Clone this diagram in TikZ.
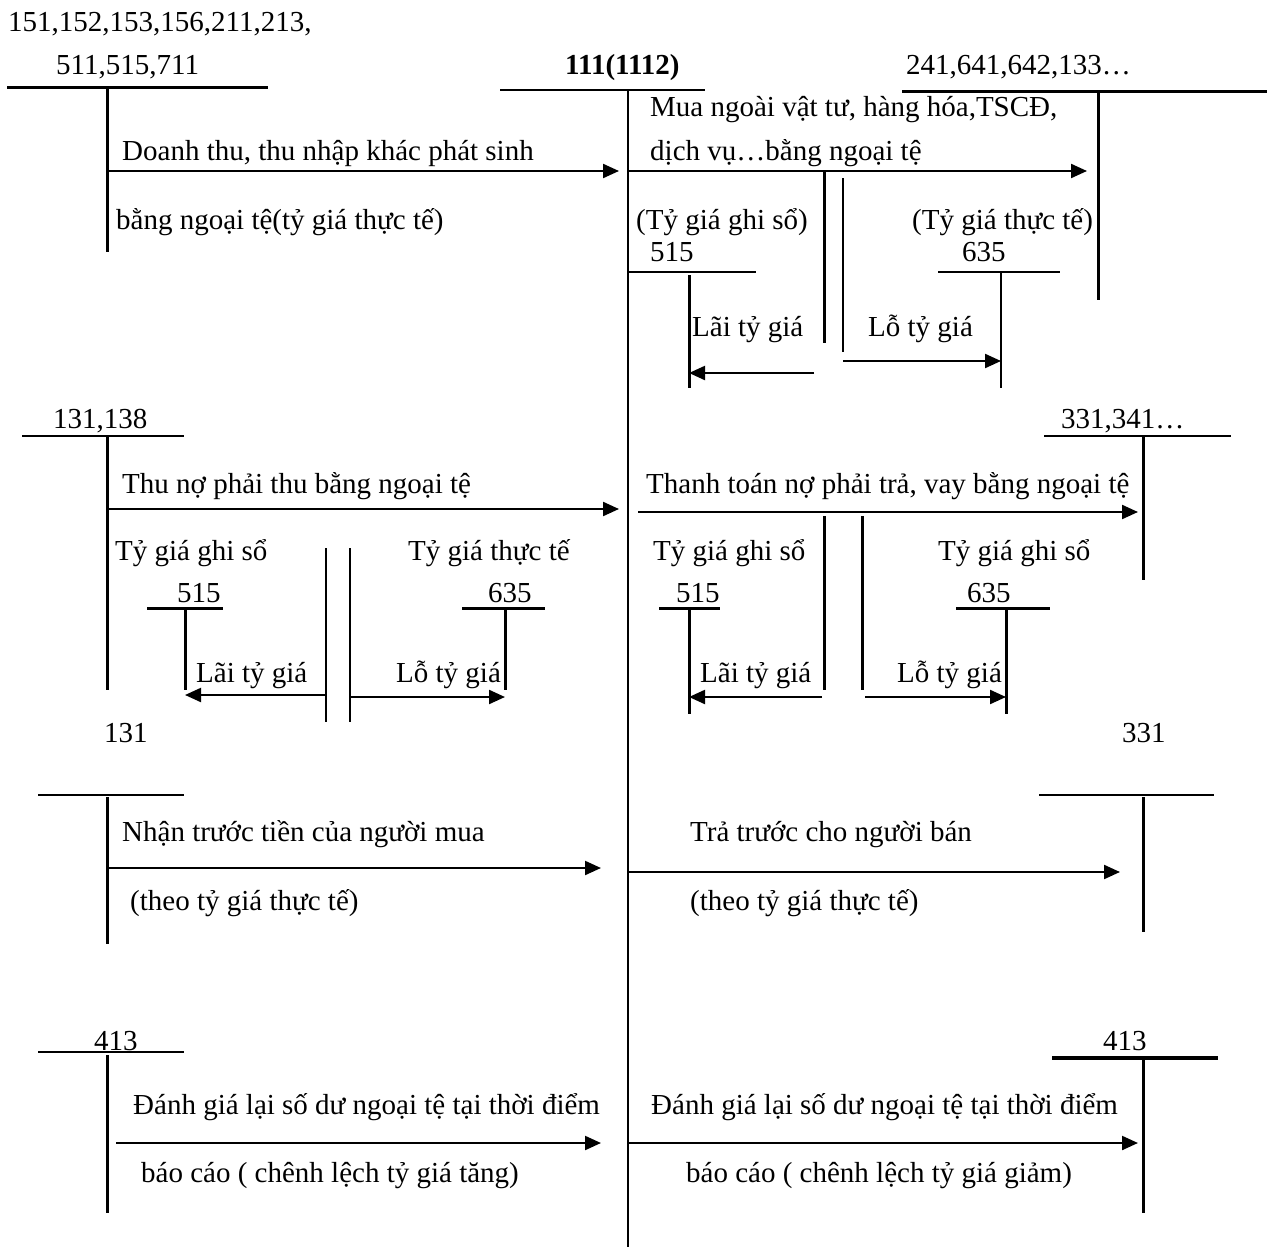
\documentclass[tikz,border=0pt]{standalone}
\usepackage{fontspec}
\setmainfont{Liberation Serif}
\usetikzlibrary{arrows.meta}
\tikzset{
  lbl/.style={inner sep=0pt, anchor=base west, font=\fontsize{29}{34}\selectfont},
  acc/.style={line width=3pt},
  thin/.style={line width=2pt},
  arr/.style={line width=2.2pt, -{Triangle[length=16pt,width=14pt]}},
}
\begin{document}
\begin{tikzpicture}[x=1pt,y=-1pt]
\useasboundingbox (0,0) rectangle (1267,1247);
% ---------- top header ----------
\node[lbl] (h1) at (8,32) {151,152,153,156,211,213,};
\node[lbl] (h2) at (56,75) {511,515,711};
\node[lbl,font=\fontsize{29}{34}\selectfont\bfseries] (h111) at (565,75) {111(1112)};
\node[lbl] (h3) at (906,75) {241,641,642,133…};
% account 111 center
\coordinate (c0) at (500,90); \coordinate (c1) at (705,90);
\coordinate (ct) at (628,90); \coordinate (cb) at (628,1247);
\draw[thin] (c0) -- (c1);
\draw[thin] (ct) -- (cb);
% left top T
\coordinate (a0) at (7,88); \coordinate (a1) at (268,88);
\coordinate (at) at (107,88); \coordinate (ab) at (107,252);
\draw[acc] (a0) -- (a1); \draw[acc] (at) -- (ab);
\coordinate (ar1s) at (107,171); \coordinate (ar1e) at (619,171);
\draw[arr] (ar1s) -- (ar1e);
\node[lbl] (t1) at (122,160) {Doanh thu, thu nhập khác phát sinh};
\node[lbl] (t2) at (116,229) {bằng ngoại tệ(tỷ giá thực tế)};
% right top T
\coordinate (b0) at (902,92); \coordinate (b1) at (1267,92);
\coordinate (bt) at (1098,92); \coordinate (bb) at (1098,300);
\draw[acc] (b0) -- (b1); \draw[acc] (bt) -- (bb);
\coordinate (ar2s) at (628,171); \coordinate (ar2e) at (1087,171);
\draw[arr] (ar2s) -- (ar2e);
\node[lbl] (t3) at (650,117) {Mua ngoài vật tư, hàng hóa,TSCĐ,};
\node[lbl] (t4) at (650,160) {dịch vụ…bằng ngoại tệ};
\coordinate (v1t) at (824,171); \coordinate (v1b) at (824,343);
\coordinate (v2t) at (843,178); \coordinate (v2b) at (843,352);
\draw[acc] (v1t) -- (v1b); \draw[thin] (v2t) -- (v2b);
\node[lbl] (t5) at (636,229) {(Tỷ giá ghi sổ)};
\node[lbl] (n515a) at (650,261) {515};
\coordinate (d0) at (628,272); \coordinate (d1) at (756,272);
\coordinate (dt) at (689,275); \coordinate (db) at (689,388);
\draw[thin] (d0) -- (d1); \draw[acc] (dt) -- (db);
\node[lbl] (t6) at (912,229) {(Tỷ giá thực tế)};
\node[lbl] (n635a) at (962,261) {635};
\coordinate (e0) at (938,272); \coordinate (e1) at (1060,272);
\coordinate (et) at (1001,272); \coordinate (eb) at (1001,388);
\draw[thin] (e0) -- (e1); \draw[thin] (et) -- (eb);
\node[lbl] (t7) at (692,336) {Lãi tỷ giá};
\node[lbl] (t8) at (868,336) {Lỗ tỷ giá};
\coordinate (ar3s) at (814,373);
\draw[arr] (ar3s) -- (dt |- ar3s);
\coordinate (ar4s) at (843,361);
\draw[arr] (ar4s) -- (et |- ar4s);
% ---------- section 2 left ----------
\node[lbl] (h4) at (53,428) {131,138};
\coordinate (f0) at (22,436); \coordinate (f1) at (184,436);
\coordinate (ft) at (107,436); \coordinate (fb) at (107,690);
\draw[thin] (f0) -- (f1); \draw[acc] (ft) -- (fb);
\coordinate (ar5s) at (107,509); \coordinate (ar5e) at (619,509);
\draw[arr] (ar5s) -- (ar5e);
\node[lbl] (t9) at (122,493) {Thu nợ phải thu bằng ngoại tệ};
\node[lbl] (t10) at (115,560) {Tỷ giá ghi sổ};
\node[lbl] (t11) at (408,560) {Tỷ giá thực tế};
\node[lbl] (n515b) at (177,602) {515};
\coordinate (g0) at (147,608); \coordinate (g1) at (223,608);
\coordinate (gt) at (185,608); \coordinate (gb) at (185,690);
\draw[acc] (g0) -- (g1); \draw[acc] (gt) -- (gb);
\node[lbl] (n635b) at (488,602) {635};
\coordinate (k0) at (462,608); \coordinate (k1) at (545,608);
\coordinate (kt) at (505,608); \coordinate (kb) at (505,690);
\draw[acc] (k0) -- (k1); \draw[acc] (kt) -- (kb);
\coordinate (w1t) at (326,548); \coordinate (w1b) at (326,722);
\coordinate (w2t) at (350,548); \coordinate (w2b) at (350,722);
\draw[thin] (w1t) -- (w1b); \draw[thin] (w2t) -- (w2b);
\node[lbl] (t12) at (196,682) {Lãi tỷ giá};
\node[lbl] (t13) at (396,682) {Lỗ tỷ giá};
\coordinate (ar6s) at (326,695);
\draw[arr] (ar6s) -- (gt |- ar6s);
\coordinate (ar7s) at (350,697);
\draw[arr] (ar7s) -- (kt |- ar7s);
\node[lbl] (h5) at (104,742) {131};
% ---------- section 2 right ----------
\node[lbl] (h6) at (1061,428) {331,341…};
\coordinate (m0) at (1044,436); \coordinate (m1) at (1231,436);
\coordinate (mt) at (1143,436); \coordinate (mb) at (1143,580);
\draw[thin] (m0) -- (m1); \draw[acc] (mt) -- (mb);
\coordinate (ar8s) at (638,512); \coordinate (ar8e) at (1138,512);
\draw[arr] (ar8s) -- (ar8e);
\node[lbl] (t14) at (646,493) {Thanh toán nợ phải trả, vay bằng ngoại tệ};
\coordinate (u1t) at (824,516); \coordinate (u1b) at (824,690);
\coordinate (u2t) at (862,516); \coordinate (u2b) at (862,690);
\draw[acc] (u1t) -- (u1b); \draw[acc] (u2t) -- (u2b);
\node[lbl] (t15) at (653,560) {Tỷ giá ghi sổ};
\node[lbl] (t16) at (938,560) {Tỷ giá ghi sổ};
\node[lbl] (n515c) at (676,602) {515};
\coordinate (p0) at (659,608); \coordinate (p1) at (720,608);
\coordinate (pt) at (689,608); \coordinate (pb) at (689,714);
\draw[acc] (p0) -- (p1); \draw[acc] (pt) -- (pb);
\node[lbl] (n635c) at (967,602) {635};
\coordinate (q0) at (956,608); \coordinate (q1) at (1050,608);
\coordinate (qt) at (1006,608); \coordinate (qb) at (1006,714);
\draw[acc] (q0) -- (q1); \draw[acc] (qt) -- (qb);
\node[lbl] (t17) at (700,682) {Lãi tỷ giá};
\node[lbl] (t18) at (897,682) {Lỗ tỷ giá};
\coordinate (ar9s) at (822,697);
\draw[arr] (ar9s) -- (pt |- ar9s);
\coordinate (ar10s) at (865,697);
\draw[arr] (ar10s) -- (qt |- ar10s);
\node[lbl] (h7) at (1122,742) {331};
% ---------- section 3 ----------
\coordinate (r0) at (38,795); \coordinate (r1) at (184,795);
\coordinate (rt) at (107,797); \coordinate (rb) at (107,944);
\draw[thin] (r0) -- (r1); \draw[acc] (rt) -- (rb);
\coordinate (ar11s) at (107,868); \coordinate (ar11e) at (601,868);
\draw[arr] (ar11s) -- (ar11e);
\node[lbl] (t19) at (122,841) {Nhận trước tiền của người mua};
\node[lbl] (t20) at (130,910) {(theo tỷ giá thực tế)};
\coordinate (s0) at (1039,795); \coordinate (s1) at (1214,795);
\coordinate (st) at (1143,797); \coordinate (sb) at (1143,932);
\draw[thin] (s0) -- (s1); \draw[acc] (st) -- (sb);
\coordinate (ar12s) at (628,872); \coordinate (ar12e) at (1120,872);
\draw[arr] (ar12s) -- (ar12e);
\node[lbl] (t21) at (690,841) {Trả trước cho người bán};
\node[lbl] (t22) at (690,910) {(theo tỷ giá thực tế)};
% ---------- section 4 ----------
\node[lbl] (h8) at (94,1050) {413};
\coordinate (x0) at (38,1052); \coordinate (x1) at (184,1052);
\coordinate (xt) at (107,1055); \coordinate (xb) at (107,1213);
\draw[thin] (x0) -- (x1); \draw[acc] (xt) -- (xb);
\coordinate (ar13s) at (116,1143); \coordinate (ar13e) at (601,1143);
\draw[arr] (ar13s) -- (ar13e);
\node[lbl] (t23) at (133,1114) {Đánh giá lại số dư ngoại tệ tại thời điểm};
\node[lbl] (t24) at (141,1182) {báo cáo ( chênh lệch tỷ giá tăng)};
\node[lbl] (h9) at (1103,1050) {413};
\coordinate (y0) at (1052,1058); \coordinate (y1) at (1218,1058);
\coordinate (yt) at (1143,1060); \coordinate (yb) at (1143,1213);
\draw[line width=4pt] (y0) -- (y1); \draw[acc] (yt) -- (yb);
\coordinate (ar14s) at (628,1143); \coordinate (ar14e) at (1138,1143);
\draw[arr] (ar14s) -- (ar14e);
\node[lbl] (t25) at (651,1114) {Đánh giá lại số dư ngoại tệ tại thời điểm};
\node[lbl] (t26) at (686,1182) {báo cáo ( chênh lệch tỷ giá giảm)};
\end{tikzpicture}
\end{document}
